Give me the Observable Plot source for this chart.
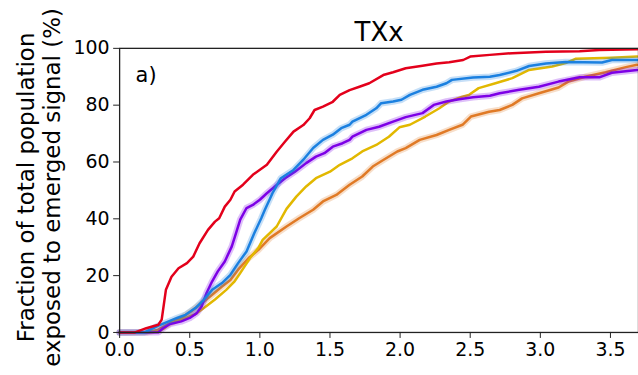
<!DOCTYPE html>
<html>
<head>
<meta charset="utf-8">
<script src="https://cdn.jsdelivr.net/npm/d3@7"></script>
<script src="https://cdn.jsdelivr.net/npm/@observablehq/plot@0.6"></script>
<style>
  html, body { margin: 0; padding: 0; overflow: hidden; background: #fff; }
</style>
</head>
<body>
<div id="chart"></div>
<script>
const title = "TXx";
const panelLabel = "a)";
const yLabel = "Fraction of total population\nexposed to emerged signal (%)";
const xTicks = [0, 0.5, 1.0, 1.5, 2.0, 2.5, 3.0, 3.5];
const yTicks = [0, 20, 40, 60, 80, 100];

const redX = [0, 0.11, 0.19, 0.276, 0.30, 0.33, 0.37, 0.42, 0.48, 0.525, 0.57, 0.63, 0.68, 0.71, 0.75, 0.79, 0.82, 0.88, 0.95, 1.05, 1.12, 1.18, 1.24, 1.31, 1.355, 1.39, 1.45, 1.52, 1.57, 1.64, 1.71, 1.78, 1.88, 1.95, 2.04, 2.16, 2.26, 2.35, 2.45, 2.50, 2.64, 2.80, 3.04, 3.28, 3.42, 3.69];
const redY = [0, 0, 1.5, 2.7, 4.5, 15.0, 19.6, 22.6, 24.4, 26.7, 31.4, 36.1, 39.0, 40.2, 44.3, 46.7, 49.6, 52.0, 55.5, 59.0, 63.6, 67.2, 70.7, 73.0, 75.4, 78.3, 79.5, 81.2, 83.6, 85.3, 86.5, 87.7, 90.6, 91.6, 93.0, 93.9, 94.7, 95.1, 95.9, 97.1, 97.7, 98.3, 98.8, 99.0, 99.4, 99.7];

const blueX = [0, 0.18, 0.24, 0.276, 0.35, 0.41, 0.47, 0.54, 0.60, 0.66, 0.73, 0.79, 0.845, 0.905, 0.96, 1.01, 1.035, 1.09, 1.15, 1.24, 1.31, 1.38, 1.45, 1.52, 1.58, 1.64, 1.66, 1.76, 1.83, 1.865, 1.95, 2.01, 2.07, 2.16, 2.26, 2.33, 2.37, 2.52, 2.64, 2.71, 2.83, 2.92, 3.04, 3.18, 3.44, 3.51, 3.69];
const blueY = [0, 0.1, 1.5, 2.4, 3.9, 5.1, 6.2, 8.6, 11.5, 15.0, 17.4, 20.3, 24.4, 28.5, 34.9, 40.2, 43.1, 49.0, 54.3, 57.2, 60.8, 64.9, 67.8, 69.6, 71.9, 73.1, 74.2, 76.6, 78.9, 80.7, 81.3, 81.9, 83.6, 85.4, 86.5, 87.7, 88.9, 89.7, 90.0, 90.6, 92.1, 93.8, 94.7, 95.2, 95.0, 95.9, 95.9];

const purpleX = [0, 0.276, 0.31, 0.36, 0.44, 0.50, 0.55, 0.585, 0.62, 0.66, 0.70, 0.75, 0.80, 0.83, 0.86, 0.905, 0.95, 1.00, 1.05, 1.12, 1.18, 1.25, 1.33, 1.40, 1.46, 1.52, 1.59, 1.64, 1.66, 1.76, 1.85, 1.95, 2.04, 2.16, 2.24, 2.33, 2.42, 2.52, 2.64, 2.71, 2.85, 2.99, 3.13, 3.28, 3.42, 3.51, 3.69];
const purpleY = [0, 0.1, 1.5, 3.0, 3.9, 5.1, 6.8, 9.2, 13.9, 18.0, 21.5, 25.0, 30.3, 35.0, 39.7, 43.8, 44.9, 46.7, 49.0, 51.9, 54.3, 56.6, 59.6, 61.9, 63.1, 65.4, 66.6, 67.8, 68.9, 71.3, 72.4, 74.2, 75.8, 77.2, 80.1, 81.3, 82.1, 82.8, 83.3, 84.2, 85.4, 86.5, 88.3, 89.8, 89.8, 91.4, 92.4];

const yellowX = [0, 0.20, 0.276, 0.32, 0.36, 0.44, 0.54, 0.61, 0.68, 0.76, 0.82, 0.86, 0.93, 0.99, 1.02, 1.12, 1.19, 1.26, 1.33, 1.40, 1.50, 1.57, 1.66, 1.73, 1.83, 1.92, 1.995, 2.07, 2.18, 2.28, 2.35, 2.445, 2.49, 2.56, 2.68, 2.80, 2.92, 3.085, 3.18, 3.25, 3.51, 3.69];
const yellowY = [0, 0.1, 0.35, 1.5, 3.3, 4.5, 6.4, 9.0, 11.6, 15.0, 18.0, 20.9, 26.2, 29.8, 32.6, 37.3, 43.5, 47.8, 51.4, 54.3, 56.6, 59.0, 61.3, 63.7, 66.0, 68.9, 72.2, 73.1, 76.0, 78.9, 81.3, 83.0, 83.6, 86.0, 87.7, 89.5, 92.4, 93.6, 94.8, 96.3, 96.7, 97.1];

const orangeX = [0, 0.20, 0.276, 0.36, 0.44, 0.51, 0.585, 0.66, 0.73, 0.79, 0.845, 0.92, 0.99, 1.07, 1.19, 1.28, 1.38, 1.45, 1.545, 1.64, 1.73, 1.805, 1.88, 1.98, 2.04, 2.14, 2.26, 2.35, 2.445, 2.505, 2.635, 2.71, 2.80, 2.87, 2.99, 3.13, 3.20, 3.32, 3.465, 3.61, 3.69];
const orangeY = [0, 0.1, 1.0, 3.3, 5.1, 7.4, 10.3, 13.3, 16.2, 18.5, 22.1, 26.2, 29.1, 33.2, 37.3, 40.2, 43.2, 46.1, 48.4, 52.0, 54.9, 58.4, 60.7, 63.7, 64.9, 67.8, 69.5, 71.3, 73.1, 76.0, 77.7, 78.3, 80.1, 82.4, 84.2, 86.2, 88.3, 90.0, 91.6, 93.4, 94.2];

const seriesNames = ["orange", "yellow", "purple", "blue", "red"];
const seriesX = {red: redX, blue: blueX, purple: purpleX, yellow: yellowX, orange: orangeX};
const seriesY = {red: redY, blue: blueY, purple: purpleY, yellow: yellowY, orange: orangeY};

// styles
const colors = {red: "#e3001b", blue: "#1b80e0", purple: "#7d00e6", yellow: "#e2b800", orange: "#e07a26"};
const halo = {red: false, blue: true, purple: true, yellow: false, orange: true};

const rows = seriesNames.flatMap(s => seriesX[s].map((x, i) => ({series: s, x, y: seriesY[s][i]})));

const marks = [];
for (const s of seriesNames) {
  const d = rows.filter(r => r.series === s);
  if (halo[s]) marks.push(Plot.line(d, {x: "x", y: "y", stroke: colors[s], strokeWidth: 6.5, strokeOpacity: 0.25, curve: "linear"}));
  marks.push(Plot.line(d, {x: "x", y: "y", stroke: colors[s], strokeWidth: 2.5, curve: "linear"}));
}

const chart = Plot.plot({
  width: 640,
  height: 375,
  marginLeft: 119.5,
  marginRight: 0,
  marginTop: 48,
  marginBottom: 42,
  style: {fontFamily: "DejaVu Sans, sans-serif", fontSize: "19px", color: "#000", background: "#fff", overflow: "visible"},
  x: {domain: [0, 3.7]},
  y: {domain: [0, 100]},
  marks: [
    ...marks,
    Plot.frame({stroke: "#222", strokeWidth: 1.3}),
    Plot.axisX({ticks: xTicks, tickFormat: d3.format(".1f"), tickSize: 6, tickPadding: 4, fontSize: 19, label: null, stroke: "#222"}),
    Plot.axisY({ticks: yTicks, tickSize: 6, tickPadding: 4, fontSize: 19, label: null, stroke: "#222"}),
    Plot.text([title], {frameAnchor: "top", dy: -26, fontSize: 26, fill: "#000"}),
    Plot.text([panelLabel], {frameAnchor: "top-left", dx: 16, dy: 27, fontSize: 21, textAnchor: "start", lineAnchor: "middle", fill: "#000"}),
    Plot.text([yLabel], {frameAnchor: "left", dx: -81, dy: -3, rotate: -90, fontSize: 23, lineHeight: 1.15, textAnchor: "middle", lineAnchor: "middle", fill: "#000"})
  ]
});
document.getElementById("chart").appendChild(chart);
</script>
</body>
</html>
